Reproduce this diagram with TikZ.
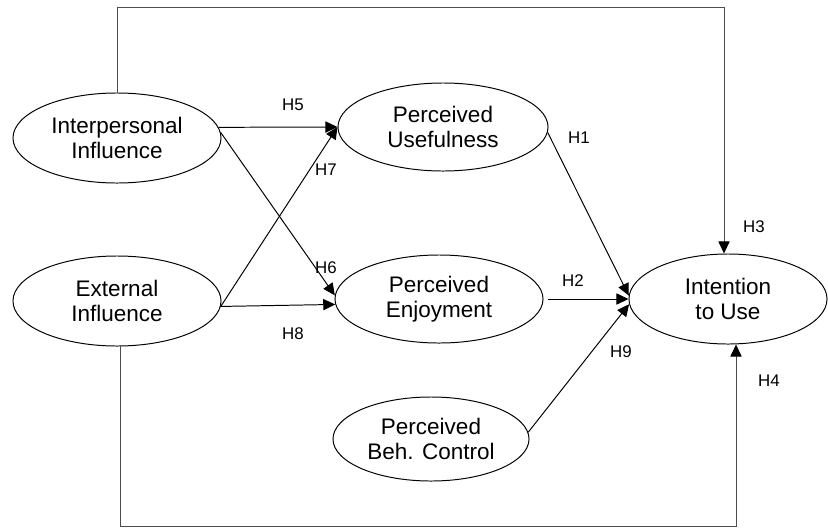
\documentclass[tikz,border=0pt]{standalone}
\usepackage{fontspec}
\setmainfont{Liberation Sans}
\usetikzlibrary{shapes.geometric,arrows.meta}

\begin{document}
\begin{tikzpicture}[x=0.025cm, y=-0.025cm,
    construct/.style={ellipse, draw, line width=0.7pt, inner sep=0pt, align=center,
      minimum width=5.2cm, minimum height=2.25cm, font=\fontsize{16}{17.8}\selectfont},
    link/.style={draw, line width=0.7pt, -{Triangle[length=0.3cm, width=0.28cm]}},
    outerlink/.style={draw=black!70, line width=0.7pt, -{Triangle[length=0.3cm, width=0.28cm, color=black]}},
    hyp/.style={inner sep=0pt, font=\fontsize{12}{14}\selectfont}]
        \useasboundingbox (0, 0) rectangle (828, 527);
        % constructs
        \node[construct] (ii) at (117, 138) {Interpersonal\\Influence};
        \node[construct] (ei) at (117, 301) {External\\Influence};
        \node[construct, minimum width=5.25cm, minimum height=2.2cm] (pu) at (443, 127) {Perceived\\Usefulness};
        \node[construct, minimum height=2.2cm] (pe) at (439, 299) {Perceived\\Enjoyment};
        \node[construct, minimum width=4.9cm, minimum height=2.1cm] (pbc) at (431, 439) {Perceived\\Beh. Control};
        \node[construct, minimum width=4.95cm] (itu) at (728, 299) {Intention\\to Use};
        \coordinate (topcorner) at (724, 7);
        \coordinate (botcorner) at (736, 526);
        % paths
        \draw[link] (ii.6) -- (pu.west);
        \draw[link] (ii.3) -- (pe.178);
        \draw[link] (ei.-3) -- (pu.west);
        \draw[link] (ei.-3) -- (pe.183);
        \draw[link] (pu.-3) -- (itu.178);
        \draw[link, shorten <=0.1cm] (pe.east) -- (itu.west);
        \draw[link] (pbc.4) -- (itu.183);
        \draw[outerlink] (ii.north) |- (topcorner) -- (topcorner |- itu.north);
        \draw[outerlink] (ei.-85) |- (botcorner) -- (botcorner |- itu.south);
        % hypotheses
        \node[hyp] (h1) at (579, 138) {H1};
        \node[hyp] (h2) at (573, 281) {H2};
        \node[hyp] (h3) at (754, 227) {H3};
        \node[hyp] (h4) at (769, 381) {H4};
        \node[hyp] (h5) at (293, 105) {H5};
        \node[hyp] (h6) at (326, 268) {H6};
        \node[hyp] (h7) at (326, 170) {H7};
        \node[hyp] (h8) at (293, 334) {H8};
        \node[hyp] (h9) at (621, 352) {H9};
\end{tikzpicture}
\end{document}
